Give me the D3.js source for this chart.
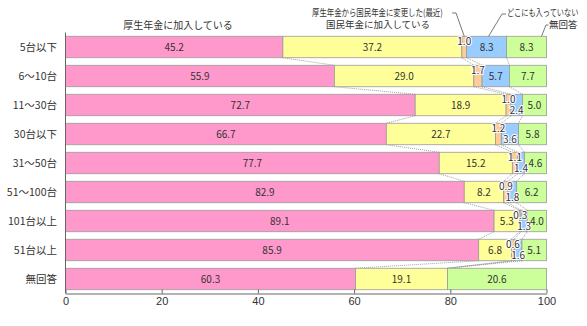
<!DOCTYPE html>
<html>
<head>
<meta charset="utf-8">
<script src="https://cdn.jsdelivr.net/npm/d3@7"></script>
<style>
  html, body { margin: 0; padding: 0; background: #fff; }
  svg { display: block; font-family: "Noto Sans CJK JP", "Noto Sans", sans-serif; }
</style>
</head>
<body>
<svg id="chart" width="587" height="326"></svg>
<script>
// Row categories (number of vehicles owned)
const categories = ["5台以下", "6～10台", "11～30台", "30台以下", "31～50台", "51～100台", "101台以上", "51台以上", "無回答"];

// Share of respondents (%) per pension status
const kosei   = [45.2, 55.9, 72.7, 66.7, 77.7, 82.9, 89.1, 85.9, 60.3]; // 厚生年金に加入している
const kokumin = [37.2, 29.0, 18.9, 22.7, 15.2,  8.2,  5.3,  6.8, 19.1]; // 国民年金に加入している
const henkou  = [ 1.0,  1.7,  1.0,  1.2,  1.1,  0.9,  0.3,  0.6,  0.0]; // 厚生年金から国民年金に変更した(最近)
const nashi   = [ 8.3,  5.7,  2.4,  3.6,  1.4,  1.8,  1.3,  1.6,  0.0]; // どこにも入っていない
const mukaitou= [ 8.3,  7.7,  5.0,  5.8,  4.6,  6.2,  4.0,  5.1, 20.6]; // 無回答

const xTicks = [0, 20, 40, 60, 80, 100];

const seriesList = [
  { key: "kosei",    values: kosei,    color: "#ff99cc" },
  { key: "kokumin",  values: kokumin,  color: "#ffff99" },
  { key: "henkou",   values: henkou,   color: "#ffcc99" },
  { key: "nashi",    values: nashi,    color: "#99ccff" },
  { key: "mukaitou", values: mukaitou, color: "#ccff99" }
];

const svg = d3.select("#chart");

const x = d3.scaleLinear().domain([0, 100]).range([65.5, 546.5]);
const y = d3.scaleBand().domain(categories).range([32.5, 293.5])
  .paddingInner(0.26).paddingOuter(0.13);
const bw = y.bandwidth();

// Segment table: start/end of every stacked piece
const segs = [];
categories.forEach((c, i) => {
  let acc = 0;
  seriesList.forEach((s, k) => {
    const v = s.values[i];
    segs.push({ cat: c, row: i, k, key: s.key, color: s.color, v, x0: acc, x1: acc + v });
    acc += v;
  });
});

// Dotted connectors between the stack boundaries of neighbouring rows
const conn = svg.append("g");
for (let i = 0; i < categories.length - 1; i++) {
  for (let k = 0; k < seriesList.length - 1; k++) {
    const a = d3.sum(seriesList.slice(0, k + 1), s => s.values[i]);
    const b = d3.sum(seriesList.slice(0, k + 1), s => s.values[i + 1]);
    conn.append("line")
      .attr("x1", x(a)).attr("y1", y(categories[i]) + bw)
      .attr("x2", x(b)).attr("y2", y(categories[i + 1]))
      .attr("stroke", "#888").attr("stroke-width", 0.8)
      .attr("stroke-dasharray", "1,1");
  }
}

// Bars
svg.append("g").selectAll("rect")
  .data(segs.filter(d => d.v > 0))
  .join("rect")
  .attr("x", d => x(d.x0))
  .attr("y", d => y(d.cat))
  .attr("width", d => x(d.x1) - x(d.x0))
  .attr("height", bw)
  .attr("fill", d => d.color)
  .attr("stroke", "#9a9a9a")
  .attr("stroke-width", 0.8);

// Value labels; the narrow pieces are staggered above / below the bar centre
const isSmall = d => d.key === "henkou" || (d.key === "nashi" && d.v < 5);
svg.append("g").selectAll("text")
  .data(segs.filter(d => d.v > 0))
  .join("text")
  .attr("x", d => x((d.x0 + d.x1) / 2))
  .attr("y", d => {
    const c = y(d.cat) + bw / 2;
    if (d.key === "henkou") return c - 5.5;
    if (d.key === "nashi" && d.v < 5) return c + 5.5;
    return c;
  })
  .attr("dy", "0.35em")
  .attr("text-anchor", "middle")
  .attr("font-size", 10)
  .attr("fill", "#333")
  .attr("stroke", d => isSmall(d) ? "#fff" : "none")
  .attr("stroke-width", 2)
  .attr("paint-order", "stroke")
  .text(d => d.v.toFixed(1));

// Category labels
svg.append("g").selectAll("text")
  .data(categories)
  .join("text")
  .attr("x", 57)
  .attr("y", d => y(d) + bw / 2)
  .attr("dy", "0.35em")
  .attr("text-anchor", "end")
  .attr("font-size", 10.5)
  .attr("fill", "#333")
  .text(d => d);

// Axes
svg.append("line")
  .attr("x1", x(0)).attr("x2", x(0))
  .attr("y1", 32.5).attr("y2", 293.5)
  .attr("stroke", "#666").attr("stroke-width", 1);

const xAxis = svg.append("g")
  .attr("transform", "translate(0,293.5)")
  .call(d3.axisBottom(x).tickValues(xTicks).tickSizeInner(-4).tickSizeOuter(0).tickPadding(4));
xAxis.select(".domain").attr("stroke", "#666");
xAxis.selectAll(".tick line").attr("stroke", "#666");
xAxis.selectAll(".tick text")
  .attr("font-size", 11)
  .attr("fill", "#333")
  .attr("font-family", "Liberation Sans, Arial, sans-serif");

// Series captions with leader lines
const top0 = y(categories[0]);
const cap = svg.append("g").attr("font-size", 9.5).attr("fill", "#333");

cap.append("text").attr("x", 178).attr("y", 25).attr("dy", "0.35em")
  .attr("text-anchor", "middle").attr("font-size", 10)
  .text("厚生年金に加入している");

cap.append("text").attr("transform", "translate(312,13) scale(0.78,1)").attr("dy", "0.35em")
  .text("厚生年金から国民年金に変更した(最近)");
cap.append("text").attr("x", 378).attr("y", 25).attr("dy", "0.35em")
  .attr("text-anchor", "middle")
  .text("国民年金に加入している");

cap.append("text").attr("transform", "translate(507,13) scale(0.76,1)").attr("dy", "0.35em")
  .text("どこにも入っていない");
cap.append("text").attr("x", 549).attr("y", 25).attr("dy", "0.35em")
  .text("無回答");

const seg0 = key => segs.find(d => d.row === 0 && d.key === key);
const leader = d3.line();
const lead = svg.append("g").attr("fill", "none").attr("stroke", "#555").attr("stroke-width", 0.8);
const h0 = seg0("henkou");
lead.append("path").attr("d", leader([[452, 13], [456, 13], [x((h0.x0 + h0.x1) / 2), top0]]));
const n0 = seg0("nashi");
lead.append("path").attr("d", leader([[x((n0.x0 + n0.x1) / 2) + 2, top0], [502, 14], [506, 14]]));
const m0 = seg0("mukaitou");
lead.append("path").attr("d", leader([[x(m0.x1) - 5, top0], [546, 25], [548.5, 25]]));
</script>
</body>
</html>
